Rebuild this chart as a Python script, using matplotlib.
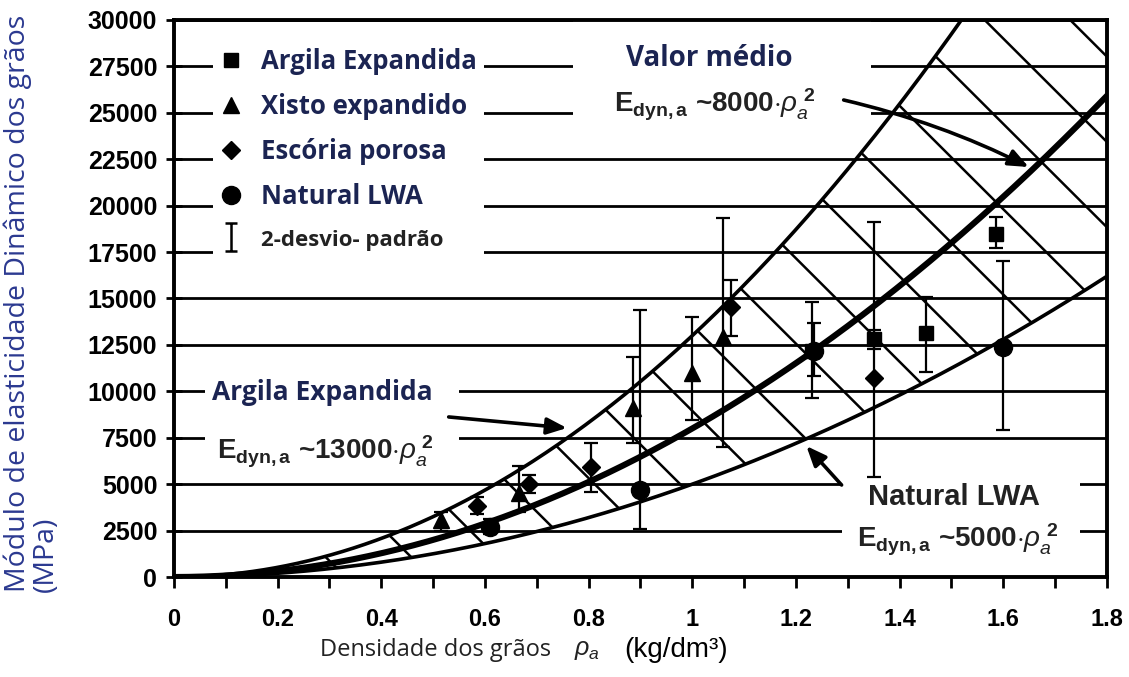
import numpy as np
import matplotlib
matplotlib.use('Agg')
import matplotlib.pyplot as plt
from matplotlib.patches import Polygon, Rectangle
from matplotlib.lines import Line2D
from matplotlib.path import Path

plt.rcParams['font.family'] = ['Liberation Sans', 'DejaVu Sans']
plt.rcParams['mathtext.fontset'] = 'custom'
plt.rcParams['mathtext.rm'] = 'Liberation Sans:bold'
plt.rcParams['mathtext.it'] = 'Liberation Sans:italic'

# curvas E = k * rho^2
coef_argila = 13000
coef_medio = 8000
coef_natural = 5000

# pontos (densidade, modulo, limites do desvio)
argila_x = [1.23, 1.35, 1.45, 1.585]
argila_y = [12150, 12800, 13150, 18450]
argila_lo = [9650, 12300, 11050, 17700]
argila_hi = [14800, 13300, 15100, 19400]

xisto_x = [0.515, 0.665, 0.885, 1.0, 1.06]
xisto_y = [3050, 4500, 9100, 11000, 12950]
xisto_lo = [2500, 3500, 7200, 8450, 7000]
xisto_hi = [3500, 6000, 11850, 14000, 19350]

escoria_x = [0.585, 0.685, 0.805, 1.075, 1.35]
escoria_y = [3850, 5000, 5900, 14550, 10700]
escoria_lo = [3400, 4500, 4600, 13000, 5400]
escoria_hi = [4300, 5500, 7200, 16000, 19100]

natural_x = [0.61, 0.90, 1.235, 1.60]
natural_y = [2700, 4700, 12150, 12400]
natural_lo = [2300, 2600, 10800, 7900]
natural_hi = [3100, 14400, 13700, 17000]

x_ticks = [0, 0.2, 0.4, 0.6, 0.8, 1.0, 1.2, 1.4, 1.6, 1.8]
x_tick_labels = ['0', '0.2', '0.4', '0.6', '0.8', '1', '1.2', '1.4', '1.6', '1.8']
y_ticks = list(range(0, 30001, 2500))

navy = '#1b2452'
dark = '#222222'

fig = plt.figure(figsize=(11.29, 6.77), dpi=100)
ax = fig.add_axes([0.1541, 0.1477, 0.8264, 0.8228])
xmax, ymax = 1.8, 30000

xx = np.linspace(0, xmax, 500)
up = coef_argila * xx**2
lo = coef_natural * xx**2

# hachura entre as curvas extremas
verts = np.vstack([np.column_stack([xx, np.minimum(up, ymax)]),
                   np.column_stack([xx[::-1], lo[::-1]])])
region = Polygon(verts, closed=True, fc='none', ec='none')
ax.add_patch(region)
S = 27850
for x0 in np.arange(1.564 + 0.165 * 6, -0.9, -0.165):
    ln, = ax.plot([x0 - 1.5, x0 + 1.5], [ymax + 1.5 * S, ymax - 1.5 * S],
                  color='k', lw=1.8, zorder=2)
    ln.set_clip_path(region)

ax.plot(xx, up, color='k', lw=2.6, zorder=3)
ax.plot(xx, coef_medio * xx**2, color='k', lw=4.4, zorder=3)
ax.plot(xx, lo, color='k', lw=2.6, zorder=3)

# barras de desvio
for xs, ys, l, h in [(argila_x, argila_y, argila_lo, argila_hi),
                     (xisto_x, xisto_y, xisto_lo, xisto_hi),
                     (escoria_x, escoria_y, escoria_lo, escoria_hi),
                     (natural_x, natural_y, natural_lo, natural_hi)]:
    ys = np.array(ys)
    ax.errorbar(xs, ys, yerr=[ys - np.array(l), np.array(h) - ys], fmt='none',
                ecolor='k', elinewidth=1.6, capsize=5, capthick=1.6, zorder=4)

m1, = ax.plot(natural_x, natural_y, 'o', color='k', ms=13, ls='none', zorder=5)
m2, = ax.plot(escoria_x, escoria_y, 'D', color='k', ms=9, ls='none', zorder=5)
m3, = ax.plot(xisto_x, xisto_y, '^', color='k', ms=12, ls='none', zorder=5)
m4, = ax.plot(argila_x, argila_y, 's', color='k', ms=10, ls='none', zorder=5)

bar_path = Path([(-0.45, 1), (0.45, 1), (0, 1), (0, -1), (-0.45, -1), (0.45, -1)],
                [Path.MOVETO, Path.LINETO, Path.MOVETO, Path.LINETO,
                 Path.MOVETO, Path.LINETO])
err_h = Line2D([], [], marker=bar_path, ms=20, mew=1.8, color='k', ls='none',
               fillstyle='none')

ax.set_xlim(0, xmax)
ax.set_ylim(0, ymax)
ax.set_xticks(x_ticks)
ax.set_xticklabels(x_tick_labels, fontweight='bold', fontsize=17,
                   family=['Liberation Sans Narrow', 'Liberation Sans'])
ax.set_xticks(np.arange(0.1, 1.8, 0.2), minor=True)
ax.set_yticks(y_ticks)
ax.set_yticklabels([str(v) for v in y_ticks], fontweight='bold', fontsize=18)
ax.tick_params(axis='x', which='both', direction='out', length=8, width=2, pad=14)
ax.tick_params(axis='y', direction='inout', length=12, width=2, pad=6)
ax.grid(axis='y', color='k', lw=2)
for sp in ax.spines.values():
    sp.set_linewidth(2.8)

# caixas brancas que interrompem a grade
ax.add_patch(Rectangle((0.77, 24000), 0.575, 6000, fc='white', ec='none', zorder=1.8))
ax.add_patch(Rectangle((0.06, 6030), 0.49, 4900, fc='white', ec='none', zorder=1.8))
ax.add_patch(Rectangle((1.288, 900), 0.46, 4850, fc='white', ec='none', zorder=1.8))

leg = ax.legend([m4, m3, m2, m1, err_h],
                ['Argila Expandida', 'Xisto expandido', 'Escória porosa',
                 'Natural LWA', '2-desvio- padrão'],
                loc='upper left', bbox_to_anchor=(0.042, 0.963), borderaxespad=0,
                frameon=True, facecolor='white', edgecolor='none', framealpha=1,
                handlelength=0.8, handletextpad=0.75, labelspacing=0.7,
                borderpad=0.3, prop={'family': 'Open Sans', 'weight': 'bold', 'size': 18.5})
for t in leg.get_texts():
    t.set_color(navy)
leg.get_texts()[-1].set_fontsize(16)
leg.get_texts()[-1].set_color(dark)

ax.text(0.872, 27950, 'Valor médio', color=navy, family='Open Sans',
        fontweight='bold', fontsize=20, va='center', zorder=6)
ax.text(0.849, 25420, r'E$_{\mathrm{dyn,a}}$ ~8000$\cdot\rho_{a}^{\ 2}$', color=dark,
        fontweight='bold', fontsize=20, va='center', zorder=6)
ax.text(0.0735, 9910, 'Argila Expandida', color=navy, family='Open Sans',
        fontweight='bold', fontsize=19, va='center', zorder=6)
ax.text(0.083, 6730, r'E$_{\mathrm{dyn,a}}$ ~13000$\cdot\rho_{a}^{\ 2}$', color=dark,
        fontweight='bold', fontsize=20, va='center', zorder=6)
ax.text(1.338, 4310, 'Natural LWA', color=dark, fontweight='bold', fontsize=21,
        va='center', zorder=6)
ax.text(1.317, 1990, r'E$_{\mathrm{dyn,a}}$ ~5000$\cdot\rho_{a}^{\ 2}$', color=dark,
        fontweight='bold', fontsize=20, va='center', zorder=6)

arrow = dict(arrowstyle='-|>,head_length=1.2,head_width=0.5', lw=2.6, color='k',
             shrinkA=0, shrinkB=0)
ax.annotate('', xy=(1.649, 22080), xytext=(1.292, 25690),
            arrowprops=dict(arrow, connectionstyle='arc3,rad=-0.06'), zorder=6)
ax.annotate('', xy=(0.758, 8025), xytext=(0.530, 8620), arrowprops=arrow, zorder=6)
ax.annotate('', xy=(1.220, 7055), xytext=(1.288, 4955), arrowprops=arrow, zorder=6)

fig.text(0.003, 0.126, 'Módulo de elasticidade Dinâmico dos grãos\n(MPa)',
         rotation=90, ha='left', va='bottom', multialignment='left',
         color='#2b3990', family='Open Sans', fontsize=20.5, linespacing=1.0)
fig.text(0.283, 0.040, 'Densidade dos grãos', color=dark, family='Open Sans',
         fontsize=17, va='center')
fig.text(0.508, 0.040, r'$\rho_{a}$', color=dark, fontsize=18, va='center')
fig.text(0.553, 0.040, '(kg/dm³)', color='k', fontsize=20, va='center',
         family=['Liberation Sans Narrow', 'Liberation Sans'])

fig.savefig('out.png', dpi=100)
